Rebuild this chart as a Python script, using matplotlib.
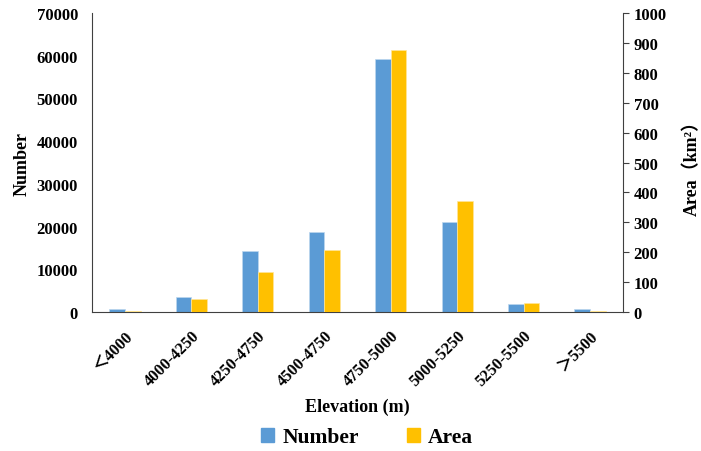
import numpy as np
import matplotlib.pyplot as plt
from matplotlib.patches import Patch

categories = ["＜4000", "4000-4250", "4250-4750", "4500-4750",
              "4750-5000", "5000-5250", "5250-5500", "＞5500"]
number = [700, 3450, 14300, 18700, 59200, 21100, 1800, 800]
area = [4, 42, 133, 207, 875, 370, 31, 5]

plt.rcParams['font.family'] = ['Liberation Serif', 'Noto Sans CJK SC']
plt.rcParams['font.weight'] = 'bold'

blue = "#5b9bd5"
gold = "#ffc000"

fig = plt.figure(figsize=(7.01, 4.52), dpi=100)
ax = fig.add_axes([0.131, 0.3075, 0.758, 0.6615])
ax2 = ax.twinx()

x = np.arange(len(categories))
w = 0.235
ax.bar(x - w / 2, number, w, color=blue, edgecolor="#bdd7ee", linewidth=0.5)
ax2.bar(x + w / 2, area, w, color=gold, edgecolor="#ffe699", linewidth=0.5)

ax.set_xlim(-0.5, len(categories) - 0.5)
ax.set_ylim(0, 70000)
ax2.set_ylim(0, 1000)
ax.set_yticks(np.arange(0, 70001, 10000))
ax2.set_yticks(np.arange(0, 1001, 100))

for a in (ax, ax2):
    a.spines['top'].set_visible(False)
ax2.spines['left'].set_visible(False)
ax2.spines['bottom'].set_visible(False)
ax.spines['right'].set_visible(False)
ax.spines['left'].set_color("#404040")
ax.spines['bottom'].set_color("#404040")
ax2.spines['right'].set_color("#404040")

ax.tick_params(axis='y', length=0, labelsize=12, pad=10)
ax.tick_params(axis='x', length=0, labelsize=11.8, pad=11)
ax2.tick_params(axis='y', length=4, labelsize=12, direction='out', color="#404040")

ax.set_xticks(x)
ax.set_xticklabels(categories, rotation=45, ha='right', rotation_mode='anchor')
for lbl in ax.get_xticklabels() + ax.get_yticklabels() + ax2.get_yticklabels():
    lbl.set_fontweight('bold')

ax.set_xlabel("Elevation (m)", fontsize=13, fontweight='bold', labelpad=6)
ax.set_ylabel("Number", fontsize=13, fontweight='bold', labelpad=4)
ax2.set_ylabel("Area（km²）", fontsize=13, fontweight='bold', labelpad=12)

handles = [Patch(color=blue), Patch(color=gold)]
fig.legend(handles, ["Number", "Area"], loc='lower center', ncol=2,
           bbox_to_anchor=(0.524, -0.035), frameon=False,
           prop={'size': 15.5, 'weight': 'bold'}, handlelength=0.6,
           handleheight=0.6, handletextpad=0.4, columnspacing=2.2)

fig.savefig("out.png", dpi=100)
